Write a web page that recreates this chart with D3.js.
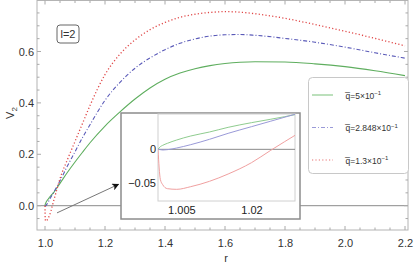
<!DOCTYPE html>
<html><head><meta charset="utf-8">
<script src="https://cdn.jsdelivr.net/npm/d3@7"></script>
<style>body{margin:0;background:#fff}svg{display:block;font-family:"Liberation Sans",Arial,sans-serif}</style>
</head><body><svg id="c" width="415" height="268"></svg>
<script>
// ---- data ----
const rVals = [1.0,1.0005,1.001,1.002,1.004,1.007,1.011,1.015,1.02,1.024,1.03,1.04,1.05,1.075,1.1,1.125,1.15,1.2,1.25,1.3,1.35,1.4,1.45,1.5,1.55,1.6,1.65,1.7,1.8,1.9,2.0,2.1,2.2];
const vGreen = [0,0.004,0.006,0.009,0.014,0.02,0.026,0.033,0.04,0.045,0.053,0.07,0.087,0.13,0.17,0.208,0.245,0.31,0.365,0.415,0.458,0.492,0.516,0.533,0.545,0.553,0.558,0.56,0.559,0.552,0.541,0.525,0.506];
const vBlue = [0,-0.0005,-0.001,-0.0005,0.002,0.007,0.015,0.024,0.034,0.042,0.054,0.075,0.097,0.155,0.21,0.265,0.315,0.41,0.48,0.535,0.575,0.607,0.632,0.649,0.66,0.665,0.666,0.663,0.651,0.636,0.617,0.595,0.574];
const vRed = [0,-0.045,-0.053,-0.059,-0.06,-0.056,-0.048,-0.037,-0.02,-0.002,0.024,0.065,0.105,0.18,0.25,0.32,0.39,0.51,0.59,0.645,0.685,0.713,0.733,0.745,0.752,0.755,0.753,0.747,0.729,0.705,0.679,0.651,0.622];
const seriesNames = ["5×10", "2.848×10", "1.3×10"];
const xTicks = [1.0,1.2,1.4,1.6,1.8,2.0,2.2];
const yTicks = [0.0,0.2,0.4,0.6];
const insetXTicks = [1.005,1.02];
const insetYTicks = [0,-0.05];
const arrowFrom = [1.04,-0.028], arrowTo = [1.245,0.083];

const colors = ["#5fae5f","#5a5ab8","#e04848"];
const insetColors = ["#8fcc8f","#9a9ad8","#f0a0a0"];
const dashes = [null,"4,2,1,2","1.2,2.2"];
const series = [vGreen,vBlue,vRed];

const svg = d3.select("#c");
const W=415,H=268;
const L=37,R=408,T=0.5,B=230;
const x = d3.scaleLinear().domain([0.9733,2.21]).range([L,R]);
const y = d3.scaleLinear().domain([-0.0946,0.7965]).range([B,1]);

// clip
svg.append("clipPath").attr("id","mainclip").append("rect").attr("x",L).attr("y",T).attr("width",R-L).attr("height",B-T);

// zero axis line
svg.append("line").attr("x1",L).attr("x2",R).attr("y1",y(0)).attr("y2",y(0)).attr("stroke","#8a8a8a").attr("stroke-width",1);

// curves
const mk = (xs,ys)=>d3.line().x((d,i)=>xs(rVals[i])).y(d=>ys(d)).curve(d3.curveMonotoneX);
const gMain = svg.append("g").attr("clip-path","url(#mainclip)");
series.forEach((s,i)=>{
  gMain.append("path").attr("d",mk(x,y)(s)).attr("fill","none").attr("stroke",colors[i])
    .attr("stroke-width",i===2?1.3:1.1).attr("stroke-dasharray",dashes[i]);
});

// frame
svg.append("rect").attr("x",L).attr("y",T).attr("width",R-L).attr("height",B-T).attr("fill","none").attr("stroke","#b4b4b4").attr("stroke-width",1);

// minor ticks
const tickCol="#aaa";
const xMinor = d3.range(1.0,2.2001,0.05);
const yMinor = d3.range(-0.05,0.7501,0.05);
xMinor.forEach(v=>{
  const major = xTicks.some(t=>Math.abs(t-v)<1e-6);
  const len = major?4:2.5;
  svg.append("line").attr("x1",x(v)).attr("x2",x(v)).attr("y1",B).attr("y2",B-len).attr("stroke",tickCol);
  svg.append("line").attr("x1",x(v)).attr("x2",x(v)).attr("y1",T).attr("y2",T+len).attr("stroke",tickCol);
});
yMinor.forEach(v=>{
  const major = yTicks.some(t=>Math.abs(t-v)<1e-6);
  const len = major?4:2.5;
  svg.append("line").attr("y1",y(v)).attr("y2",y(v)).attr("x1",L).attr("x2",L+len).attr("stroke",tickCol);
  svg.append("line").attr("y1",y(v)).attr("y2",y(v)).attr("x1",R).attr("x2",R-len).attr("stroke",tickCol);
});

// axis labels via d3 axes
const xa = svg.append("g").attr("transform",`translate(0,${B})`)
  .call(d3.axisBottom(x).tickValues(xTicks).tickSize(0).tickPadding(9).tickFormat(d3.format(".1f")));
const ya = svg.append("g").attr("transform",`translate(${L},0)`)
  .call(d3.axisLeft(y).tickValues(yTicks).tickSize(0).tickPadding(3).tickFormat(d3.format(".1f")));
[xa,ya].forEach(a=>{a.select(".domain").remove();a.selectAll("text").attr("font-size",11).attr("fill","#333").attr("font-family","Liberation Sans, Arial, sans-serif");});

svg.append("text").attr("x",226).attr("y",262).attr("text-anchor","middle").attr("font-size",11).attr("fill","#333").text("r");
const yl = svg.append("text").attr("transform","translate(14,113) rotate(-90)").attr("text-anchor","middle").attr("font-size",11).attr("fill","#333");
yl.append("tspan").text("V");
yl.append("tspan").attr("font-size",8).attr("dy",3).text("2");

// l=2 box
svg.append("rect").attr("x",57).attr("y",25).attr("width",22).attr("height",18).attr("rx",3).attr("fill","#fff").attr("stroke","#666").attr("stroke-width",1);
svg.append("text").attr("x",68).attr("y",38).attr("text-anchor","middle").attr("font-size",11).attr("fill","#333").text("l=2");

// legend
svg.append("rect").attr("x",308.5).attr("y",77.5).attr("width",100).attr("height",96).attr("rx",4).attr("fill","#fff").attr("stroke","#c8c8c8");
const legY=[95,127.5,160];
series.forEach((s,i)=>{
  svg.append("line").attr("x1",312).attr("x2",333).attr("y1",legY[i]).attr("y2",legY[i]).attr("stroke",insetColors[i])
    .attr("stroke-width",i===2?1.3:1.2).attr("stroke-dasharray",dashes[i]);
  const t = svg.append("text").attr("x",345.5).attr("y",legY[i]+3.5).attr("font-size",8.5).attr("fill","#333");
  t.append("tspan").text("q\u0305=" + seriesNames[i]);
  t.append("tspan").attr("font-size",6).attr("dy",-3.5).text("\u22121");
});

// arrow
svg.append("defs").append("marker").attr("id","ah").attr("viewBox","0 0 10 10").attr("refX",9).attr("refY",5)
  .attr("markerWidth",9).attr("markerHeight",7).attr("markerUnits","userSpaceOnUse").attr("orient","auto")
  .append("path").attr("d","M0,0 L10,5 L0,10 L2.5,5 Z").attr("fill","#111");
svg.append("line").attr("x1",x(arrowFrom[0])).attr("y1",y(arrowFrom[1])).attr("x2",x(arrowTo[0])).attr("y2",y(arrowTo[1]))
  .attr("stroke","#777").attr("stroke-width",1).attr("marker-end","url(#ah)");

// inset
svg.append("rect").attr("x",121).attr("y",113).attr("width",179).attr("height",106).attr("fill","#fff").attr("stroke","#8c8c8c").attr("stroke-width",1.5);
const iL=158,iR=295,iT=114,iB=201;
const ix = d3.scaleLinear().domain([1.0,1.0293]).range([iL,iR]);
const iy = d3.scaleLinear().domain([-0.0775,0.053]).range([iB,iT]);
svg.append("clipPath").attr("id","iclip").append("rect").attr("x",iL).attr("y",iT).attr("width",iR-iL).attr("height",iB-iT);
svg.append("rect").attr("x",iL).attr("y",iT).attr("width",iR-iL).attr("height",iB-iT).attr("fill","none").attr("stroke","#d0d0d0");
svg.append("line").attr("x1",iL).attr("x2",iR).attr("y1",iy(0)).attr("y2",iy(0)).attr("stroke","#8a8a8a");
const gIn = svg.append("g").attr("clip-path","url(#iclip)");
series.forEach((s,i)=>{
  gIn.append("path").attr("d",mk(ix,iy)(s)).attr("fill","none").attr("stroke",insetColors[i]).attr("stroke-width",1);
});
const ixa = svg.append("g").attr("transform",`translate(0,${iB})`)
  .call(d3.axisBottom(ix).tickValues(insetXTicks).tickSize(0).tickPadding(5.5).tickFormat(d=>String(d)));
const iya = svg.append("g").attr("transform",`translate(${iL},0)`)
  .call(d3.axisLeft(iy).tickValues(insetYTicks).tickSize(0).tickPadding(2).tickFormat(d=>d===0?"0":"\u22120.05"));
[ixa,iya].forEach(a=>{a.select(".domain").remove();a.selectAll("text").attr("font-size",11).attr("fill","#222").attr("font-family","Liberation Sans, Arial, sans-serif");});
</script></body></html>
